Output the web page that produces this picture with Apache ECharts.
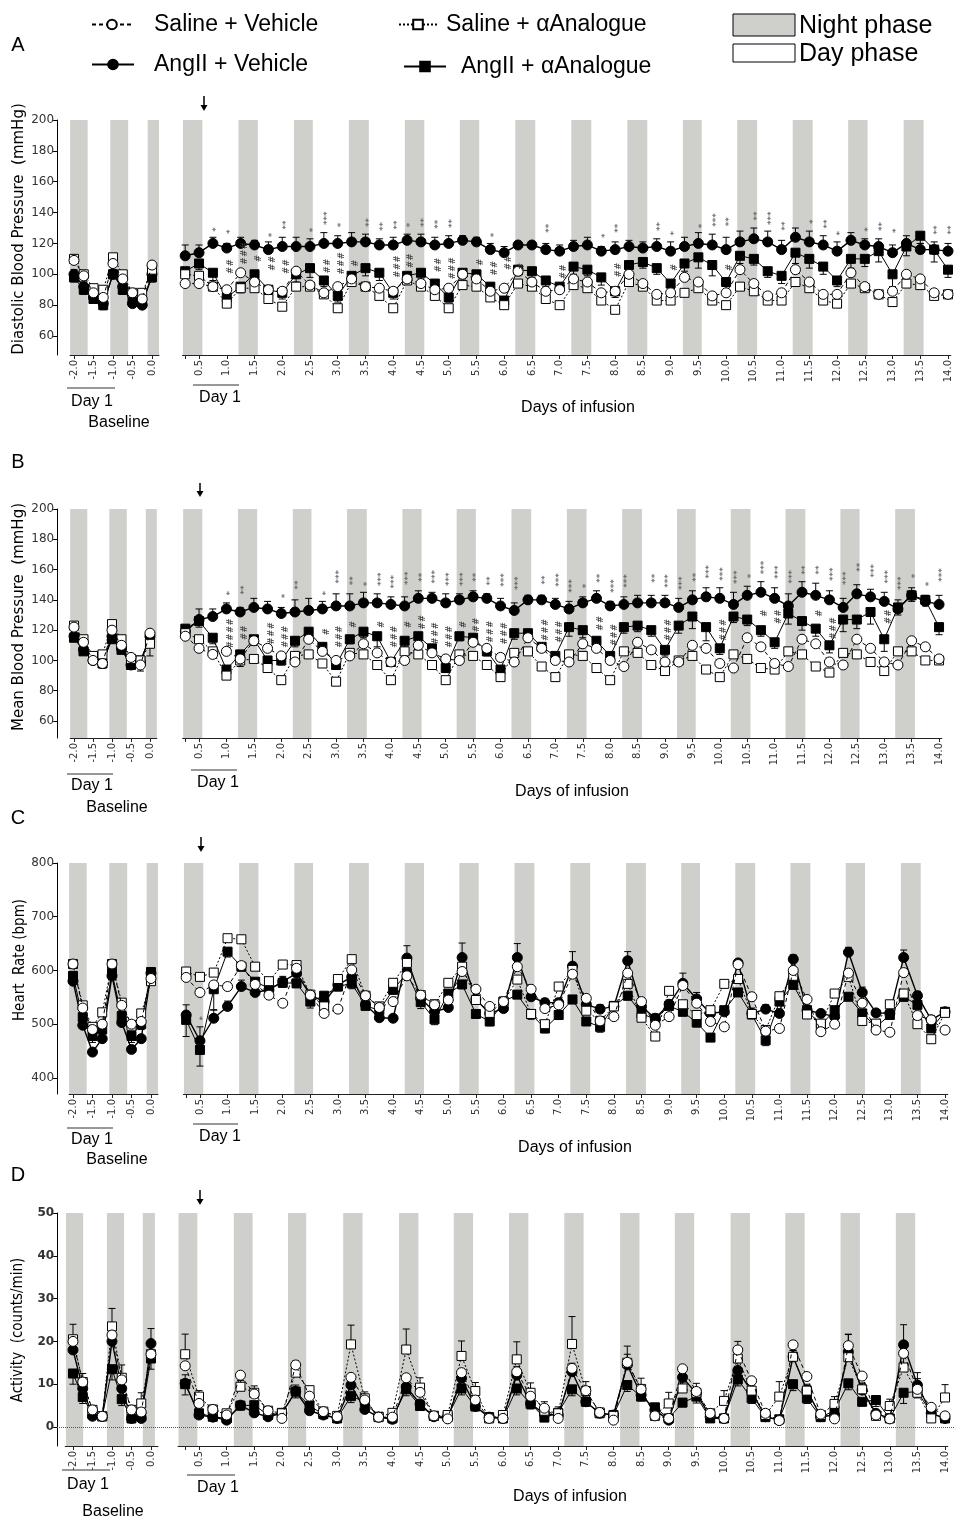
<!DOCTYPE html>
<html>
<head>
<meta charset="utf-8">
<script src="https://cdn.jsdelivr.net/npm/echarts@6/dist/echarts.min.js"></script>
<style>
html, body { margin: 0; padding: 0; background: #fff; }
#main { width: 957px; height: 1520px; }
</style>
</head>
<body>
<div id="main"></div>
<script>
// ---- x positions (days) ----
const baseDays = [-2, -1.75, -1.5, -1.25, -1, -0.75, -0.5, -0.25, 0];
const infDays = [0.25, 0.5, 0.75, 1, 1.25, 1.5, 1.75, 2, 2.25, 2.5, 2.75, 3, 3.25, 3.5, 3.75, 4,
  4.25, 4.5, 4.75, 5, 5.25, 5.5, 5.75, 6, 6.25, 6.5, 6.75, 7, 7.25, 7.5, 7.75, 8, 8.25, 8.5, 8.75, 9,
  9.25, 9.5, 9.75, 10, 10.25, 10.5, 10.75, 11, 11.25, 11.5, 11.75, 12, 12.25, 12.5, 12.75, 13,
  13.25, 13.5, 13.75, 14];
const baseTickLabels = [-2, -1.5, -1, -0.5, 0];
const infTickLabels = [0.5, 1, 1.5, 2, 2.5, 3, 3.5, 4, 4.5, 5, 5.5, 6, 6.5, 7, 7.5, 8, 8.5, 9, 9.5, 10,
  10.5, 11, 11.5, 12, 12.5, 13, 13.5, 14];

// night phases (days)
const nightBase = [[-2.1, -1.65], [-1.07, -0.61], [-0.11, 0.18]];
const nightInf = [[0.21, 0.56], [1.21, 1.56], [2.21, 2.55], [3.2, 3.56], [4.21, 4.56], [5.2, 5.55], [6.2, 6.56],
  [7.21, 7.57], [8.22, 8.58], [9.22, 9.56], [10.2, 10.56], [11.2, 11.56], [12.2, 12.55], [13.2, 13.56]];
const nightBaseD = [[-2.18, -1.74], [-1.13, -0.69], [-0.21, 0.1]];
const nightInfD = [[0.13, 0.47], [1.13, 1.47], [2.11, 2.44], [3.11, 3.46], [4.12, 4.47], [5.11, 5.46], [6.11, 6.46],
  [7.11, 7.46], [8.12, 8.47], [9.11, 9.46], [10.12, 10.47], [11.11, 11.46], [12.11, 12.46], [13.11, 13.46]];

// ---- A: diastolic blood pressure ----
const A_base_salVeh = [109, 99, 88, 85, 107, 97, 88, 84, 106];
const A_base_salAna = [110, 100, 91, 90, 111, 100, 88, 88, 103];
const A_base_angVeh = [100, 92, 85, 81, 100, 92, 81, 80, 100];
const A_base_angAna = [98, 90, 84, 80, 100, 90, 83, 82, 98];
const A_base_angVehErr = [3, 3, 3, 3, 3, 3, 2, 2, 3];
const A_base_angAnaErr = [3, 3, 2, 3, 3, 3, 2, 2, 3];

const A_salVeh = [94, 94, 92, 90, 101, 95, 90, 89, 102, 93, 88, 92, 97, 92, 91, 89, 97, 94, 90, 91, 100, 97, 89, 91, 102, 95, 89, 90,
  97, 95, 88, 89, 100, 94, 87, 88, 98, 95, 86, 88, 103, 94, 86, 88, 103, 95, 87, 87, 101, 92, 87, 89, 100, 97, 88, 87];
const A_salAna = [100, 99, 92, 81, 91, 91, 84, 79, 92, 92, 87, 78, 95, 92, 86, 78, 96, 92, 86, 78, 93, 92, 85, 80, 94, 92, 84, 80,
  93, 91, 83, 77, 95, 92, 83, 83, 88, 91, 83, 80, 92, 89, 83, 83, 95, 91, 83, 81, 94, 91, 87, 82, 94, 93, 86, 87];
const A_angVeh = [112, 114, 120, 117, 120, 119, 116, 118, 118, 118, 120, 120, 121, 121, 119, 119, 122, 121, 119, 120, 122, 121, 116, 114, 119, 119, 116, 115,
  118, 119, 115, 116, 118, 117, 118, 115, 118, 120, 119, 116, 121, 123, 121, 116, 124, 121, 119, 115, 122, 119, 118, 114, 120, 116, 116, 115];
const A_angAna = [102, 107, 101, 85, 92, 100, 90, 88, 100, 104, 96, 86, 99, 104, 101, 88, 99, 101, 94, 85, 101, 100, 92, 83, 103, 102, 96, 92,
  105, 103, 98, 89, 106, 108, 104, 94, 107, 111, 106, 95, 112, 110, 102, 99, 114, 110, 105, 96, 110, 110, 115, 100, 118, 125, 116, 103];
const A_angVehErr = [7, 5, 4, 3, 4, 3, 5, 6, 6, 5, 7, 5, 6, 5, 4, 5, 4, 5, 5, 5, 3, 3, 4, 4, 2, 2, 4, 4,
  4, 5, 3, 5, 4, 4, 5, 6, 6, 7, 7, 8, 7, 7, 7, 6, 6, 7, 6, 6, 5, 4, 5, 5, 5, 4, 5, 5];
const A_angAnaErr = [3, 4, 5, 3, 4, 5, 4, 4, 5, 6, 4, 4, 4, 5, 5, 4, 4, 4, 4, 3, 4, 4, 4, 4, 4, 4, 4, 4,
  5, 4, 5, 4, 4, 4, 4, 5, 5, 7, 7, 5, 5, 4, 4, 5, 7, 6, 5, 4, 6, 5, 7, 8, 6, 5, 8, 5];
const A_stars = [[0.75, 129, '*'], [1, 127.6, '*'], [1.75, 125.5, '*'], [2, 132, '**'], [2.5, 128.7, '*'], [2.75, 136.3, '***'],
  [3, 132, '*'], [3.5, 133.5, '**'], [3.75, 130.9, '**'], [4, 132, '**'], [4.25, 132, '*'], [4.5, 133.5, '**'], [4.75, 132.4, '**'],
  [5, 133, '**'], [5.75, 125.5, '*'], [6.75, 129.8, '**'], [7.75, 125, '*'], [8, 129.8, '**'], [8.75, 130.9, '**'], [9, 126.6, '*'],
  [9.5, 131.3, '*'], [9.75, 135.2, '***'], [10, 134.1, '**'], [10.5, 137.8, '**'], [10.75, 136.3, '***'], [11, 131.3, '**'],
  [11.5, 134.1, '*'], [11.75, 132.6, '**'], [12, 126.6, '*'], [12.5, 129.1, '*'], [12.75, 130.9, '**'], [13, 128.3, '*'],
  [13.75, 128.7, '**'], [14, 128.7, '**']];
const A_hashes = [[1, 105, '##'], [1.25, 113.6, '###'], [1.5, 110.3, '#'], [1.75, 107.1, '##'], [2, 105, '##'], [2.75, 105.4, '##'],
  [3, 107.1, '###'], [3.25, 107.1, '#'], [4, 105, '###'], [4.25, 108.8, '##'], [4.75, 106, '##'], [5, 103.9, '###'], [5.5, 107.8, '#'],
  [5.75, 103.9, '##'], [6, 107.5, '##'], [6.25, 105, '#'], [7, 101.7, '##'], [8, 102.8, '##'], [9, 104.5, '#'], [10, 104.5, '#']];

// ---- B: mean blood pressure ----
const B_base_salVeh = [122, 112, 100, 98, 120, 110, 102, 97, 118];
const B_base_salAna = [123, 114, 103, 104, 124, 114, 101, 100, 111];
const B_base_angVeh = [116, 107, 100, 98, 116, 108, 97, 99, 116];
const B_base_angAna = [115, 106, 101, 98, 114, 107, 97, 100, 115];
const B_base_salAnaErr = [2, 2, 2, 2, 2, 2, 2, 2, 8];
const B_base_salVehErr = [2, 2, 2, 3, 2, 2, 2, 4, 2];

const B_salVeh = [116, 108, 104, 106, 101, 113, 108, 103, 99, 114, 106, 100, 103, 111, 105, 99, 100, 110, 105, 101, 100, 112, 108, 102, 99, 115, 108, 100,
  99, 111, 108, 100, 96, 112, 107, 99, 99, 110, 108, 98, 95, 115, 109, 98, 96, 114, 111, 99, 97, 114, 108, 99, 97, 113, 109, 101];
const B_salAna = [118, 114, 106, 90, 100, 101, 95, 87, 103, 104, 98, 86, 105, 104, 97, 87, 106, 104, 97, 87, 104, 103, 97, 89, 105, 106, 96, 89,
  104, 103, 95, 87, 106, 105, 97, 93, 100, 103, 94, 89, 104, 101, 95, 94, 106, 104, 96, 92, 105, 104, 99, 93, 106, 106, 100, 100];
const B_angVeh = [119, 127, 129, 134, 132, 135, 134, 131, 132, 133, 134, 136, 136, 138, 138, 137, 136, 141, 141, 138, 140, 142, 141, 136, 133, 140, 140, 137,
  134, 138, 141, 136, 137, 138, 138, 138, 135, 140, 142, 141, 137, 143, 145, 141, 136, 145, 143, 140, 135, 144, 142, 139, 134, 143, 139, 137];
const B_angAna = [121, 126, 115, 94, 104, 114, 100, 100, 113, 119, 109, 97, 114, 119, 116, 99, 113, 116, 108, 95, 116, 115, 106, 94, 118, 118, 109, 103,
  122, 120, 113, 103, 122, 123, 120, 107, 123, 129, 122, 108, 129, 127, 120, 112, 131, 126, 121, 110, 127, 127, 132, 114, 135, 143, 140, 122];
const B_angVehErr = [3, 7, 5, 4, 3, 6, 5, 4, 8, 8, 5, 8, 8, 7, 6, 5, 6, 5, 4, 6, 4, 4, 3, 5, 5, 3, 3, 4,
  5, 4, 5, 3, 5, 5, 5, 5, 6, 6, 6, 7, 8, 6, 7, 7, 8, 7, 8, 6, 6, 6, 5, 6, 6, 5, 4, 6];
const B_angAnaErr = [3, 4, 4, 3, 8, 4, 3, 3, 4, 5, 3, 3, 3, 4, 7, 3, 4, 4, 3, 3, 3, 4, 3, 3, 4, 4, 3, 3,
  6, 5, 4, 3, 4, 4, 4, 4, 5, 8, 9, 4, 4, 4, 4, 4, 7, 6, 5, 5, 8, 6, 8, 8, 5, 4, 4, 5];
const B_stars = [[1, 144.3, '*'], [1.25, 146.5, '**'], [2, 142.5, '*'], [2.25, 149.8, '**'], [2.75, 144.3, '*'], [3, 155.3, '***'],
  [3.25, 152.7, '**'], [3.5, 150.5, '*'], [3.75, 153.6, '***'], [4, 152, '***'], [4.25, 154.2, '***'], [4.5, 154.9, '**'],
  [4.75, 155.3, '***'], [5, 153.6, '***'], [5.25, 153.6, '***'], [5.5, 154.9, '**'], [5.75, 152.5, '**'], [6, 153.1, '***'],
  [6.25, 150.9, '***'], [6.75, 153.1, '**'], [7, 153.1, '***'], [7.25, 149.2, '***'], [7.5, 149.2, '*'], [7.75, 154.2, '**'],
  [8, 149.2, '***'], [8.25, 152.5, '***'], [8.75, 154.2, '**'], [9, 152.5, '***'], [9.25, 150.9, '***'], [9.5, 154.9, '**'],
  [9.75, 158.6, '***'], [10, 157.1, '***'], [10.25, 154.9, '***'], [10.5, 155.8, '*'], [10.75, 161.3, '***'], [11, 158.2, '***'],
  [11.25, 155.3, '***'], [11.5, 159.7, '**'], [11.75, 159.7, '**'], [12, 156.9, '***'], [12.25, 154.2, '***'], [12.5, 161.5, '**'],
  [12.75, 159.3, '***'], [13, 155.3, '***'], [13.25, 150.9, '***'], [13.5, 155.8, '*'], [13.75, 150.5, '*'], [14, 156.4, '***']];
const B_hashes = [[1, 117.9, '####'], [1.25, 118.3, '##'], [1.75, 117.9, '###'], [2, 115.7, '###'], [2.75, 119, '#'], [3, 115.7, '###'],
  [3.25, 123.8, '#'], [3.75, 123.8, '#'], [4, 115.7, '###'], [4.25, 123.8, '#'], [4.5, 125.2, '##'], [4.75, 117.9, '###'],
  [5, 115.7, '###'], [5.25, 123.8, '#'], [5.5, 123.4, '##'], [5.75, 119, '###'], [6, 117.9, '###'], [6.75, 120.1, '###'],
  [7, 119, '###'], [7.75, 124.5, '##'], [8, 116.8, '###'], [9, 120.1, '###'], [10, 120.1, '###'], [10.75, 131.1, '#'],
  [11, 128.9, '##'], [11.75, 131.1, '#'], [12, 121.2, '###'], [13, 128.9, '##']];

// ---- C: heart rate ----
const C_base_salVeh = [612, 530, 490, 500, 612, 535, 500, 505, 585];
const C_base_salAna = [612, 535, 495, 522, 612, 540, 497, 520, 580];
const C_base_angVeh = [580, 498, 448, 473, 590, 503, 453, 473, 595];
const C_base_angAna = [590, 513, 478, 490, 595, 515, 478, 500, 597];
const C_base_angAnaErr = [8, 8, 12, 8, 8, 8, 12, 10, 8];

const C_salVeh = [587, 559, 573, 570, 609, 574, 554, 539, 604, 554, 520, 528, 601, 553, 531, 542, 590, 554, 536, 545, 598, 565, 533, 542, 607, 565, 529, 536,
  593, 548, 506, 514, 595, 542, 498, 514, 572, 539, 505, 495, 611, 551, 487, 492, 600, 546, 486, 500, 595, 539, 489, 485, 596, 516, 508, 489];
const C_salAna = [598, 588, 596, 660, 658, 607, 580, 611, 610, 555, 533, 584, 621, 553, 533, 577, 614, 554, 537, 577, 607, 545, 521, 542, 583, 519, 500, 570,
  601, 525, 506, 533, 575, 512, 477, 562, 537, 517, 526, 575, 584, 519, 489, 552, 590, 518, 501, 557, 588, 506, 501, 537, 557, 500, 472, 521];
const C_angVeh = [517, 469, 511, 533, 570, 559, 564, 579, 595, 554, 542, 573, 588, 536, 512, 511, 623, 548, 523, 531, 624, 546, 520, 529, 624, 551, 540, 540,
  608, 537, 528, 533, 618, 533, 511, 537, 576, 547, 520, 523, 614, 520, 528, 520, 621, 526, 520, 514, 634, 559, 521, 520, 624, 553, 508, 523];
const C_angAna = [508, 452, 565, 635, 607, 579, 567, 577, 576, 542, 553, 570, 576, 534, 526, 564, 595, 541, 509, 557, 574, 519, 505, 542, 555, 519, 492, 517,
  546, 505, 495, 534, 553, 520, 509, 534, 523, 503, 475, 526, 559, 518, 470, 542, 573, 526, 498, 526, 551, 520, 495, 517, 551, 536, 492, 523];
const C_angVehErr = [19, 26, 15, 10, 12, 8, 6, 10, 10, 8, 8, 8, 12, 6, 6, 5, 23, 12, 8, 6, 27, 10, 10, 8, 26, 10, 8, 8,
  27, 10, 8, 8, 17, 8, 8, 8, 19, 12, 10, 8, 6, 10, 8, 8, 8, 6, 6, 6, 9, 10, 6, 6, 14, 8, 8, 6];
const C_angAnaErr = [31, 30, 38, 10, 8, 8, 8, 8, 8, 12, 8, 8, 10, 6, 6, 8, 8, 12, 10, 8, 8, 6, 8, 6, 6, 10, 8, 8,
  8, 6, 10, 6, 8, 12, 8, 6, 6, 8, 6, 6, 6, 8, 10, 6, 6, 12, 8, 6, 6, 8, 8, 6, 8, 8, 6, 6];
const C_stars = [[0.5, 511, '*']];

// ---- D: activity ----
const D_base_salVeh = [20, 10.5, 4, 2.5, 21.5, 11, 4, 3.5, 17];
const D_base_salAna = [20.5, 10.5, 4, 2.5, 23.5, 11.5, 4, 5.5, 17];
const D_base_angVeh = [18, 9, 2.5, 2.5, 20, 9, 2, 2, 19.5];
const D_base_angAna = [12.5, 7, 3, 2.5, 13.5, 6.5, 2, 2.5, 16];
const D_base_salAnaErr = [3.5, 2, 1, 0.5, 4.2, 3, 1, 2.5, 2];
const D_base_angVehErr = [2.5, 2, 1, 0.5, 2.5, 2, 1, 1, 3.5];
const D_base_angAnaErr = [2.5, 1.5, 1, 0.5, 2.5, 1.5, 1, 1, 2.5];

const D_salVeh = [14.3, 5.5, 4.1, 2.8, 12.1, 7.7, 3.8, 2, 14.5, 7.2, 3.6, 2.4, 11.6, 6.3, 2.3, 2.3, 11.5, 8.1, 2.6, 1.9, 12.7, 6.3, 2, 2, 12.9, 7.2, 4.4, 2,
  13.7, 8.5, 3.4, 1.6, 15.1, 8.8, 2.6, 2, 13.6, 8.3, 3.2, 2, 18, 10.8, 3.2, 1.5, 19.2, 11.8, 3, 1.9, 19, 11.9, 2.8, 1.9, 17.2, 8.8, 4.6, 2.6];
const D_salAna = [17, 7.1, 4.1, 3.2, 9.4, 8, 3.8, 3.2, 12.7, 8.6, 3.6, 2.6, 19.3, 6.7, 2.3, 3.3, 18.1, 9.2, 2.6, 2.8, 16.6, 8.4, 2, 2.8, 15.8, 8, 3.8, 3.2,
  19.4, 8.4, 3.4, 2.6, 15, 8.9, 2.6, 5.5, 9, 8, 3.2, 6.1, 16, 8.5, 2.8, 7.1, 16.4, 8.5, 2.8, 5.4, 16.3, 8.8, 2.6, 4.9, 13.9, 8, 2, 6.9];
const D_angVeh = [10.2, 2.8, 2.3, 1.6, 5.1, 3.3, 2.4, 3.2, 8.3, 3.8, 2.8, 2, 9.8, 4.1, 2.3, 1.8, 9.4, 5.4, 2.4, 2, 11.4, 4.8, 2.3, 2, 12.1, 5.5, 3, 2.8,
  12.9, 5.9, 3.2, 2.8, 14.5, 7.5, 4, 1.6, 11.6, 7.9, 2.4, 2, 13.2, 8.3, 2.4, 1.6, 16.4, 8.6, 2.4, 2.8, 17.6, 8.6, 3.2, 2, 19.2, 9.8, 3.2, 2];
const D_angAna = [10, 3.2, 2.4, 2, 5, 5.1, 2.8, 3.3, 8.3, 4.9, 3, 2, 7.2, 5.9, 2.4, 2, 8.8, 4.9, 2.6, 2.4, 9, 4.8, 2.3, 2, 9, 5.4, 2.2, 3.3,
  8.8, 5.9, 3.2, 2.8, 9.8, 7.1, 4.6, 2, 5.7, 7.1, 2, 2, 11.1, 6.7, 2.3, 1.8, 10, 6.7, 2.3, 3.8, 10.2, 5.9, 6.3, 2, 8, 8.3, 3.2, 2];
const D_salAnaErr = [4.7, 1.4, 0.8, 0.6, 1.5, 1.6, 0.6, 0.6, 2.7, 0.8, 0.5, 0.6, 4.5, 1.5, 0.4, 0.6, 4.8, 2.3, 0.5, 0.5, 3.5, 2, 0.4, 0.5, 4.1, 2.3, 2.1, 1.5,
  6.4, 2.2, 0.6, 0.5, 3.9, 2.5, 0.5, 2.6, 1.5, 2.2, 0.6, 2.4, 4, 1.5, 0.5, 3.5, 1.5, 1.5, 0.5, 1.7, 5.4, 1.5, 0.5, 1.6, 2.5, 4.7, 0.5, 3];
const D_angVehErr = [2, 0.5, 0.3, 0.3, 0.8, 0.5, 0.3, 0.3, 1.5, 0.6, 0.3, 0.3, 2, 0.8, 0.3, 0.3, 1.5, 0.8, 0.3, 0.3, 2, 0.8, 0.3, 0.3, 2, 1, 0.4, 0.3,
  2, 1, 0.4, 0.3, 2.5, 1.2, 0.4, 0.3, 1.5, 1, 0.3, 0.3, 2, 1, 0.3, 0.3, 1.5, 1, 0.3, 0.3, 4, 1.5, 0.4, 0.3, 4.7, 1.5, 0.5, 0.3];
const D_angAnaErr = [2.5, 1, 0.5, 0.4, 1, 1.5, 0.5, 0.5, 1.5, 1, 0.5, 0.4, 1.5, 1, 0.4, 0.4, 1.5, 1, 0.4, 0.4, 1.5, 1, 0.4, 0.4, 1.5, 1.2, 0.4, 0.5,
  1.5, 1, 0.5, 0.5, 1.5, 1, 1, 0.4, 1, 1.5, 0.4, 0.4, 1.5, 1.2, 0.4, 0.4, 1.5, 1.2, 0.4, 0.8, 1.5, 1, 1.5, 0.4, 2.5, 1.5, 0.5, 0.4];

// ---- series look ----
const GROUPS = [
  { key: 'angAna', name: 'AngII + αAnalogue', symbol: 'rect', size: 9, fill: '#000', line: 'solid', width: 1, z: 3 },
  { key: 'angVeh', name: 'AngII + Vehicle', symbol: 'circle', size: 10, fill: '#000', line: 'solid', width: 1.4, z: 4 },
  { key: 'salAna', name: 'Saline + αAnalogue', symbol: 'rect', size: 9, fill: '#fff', line: [2, 2], width: 1, z: 5 },
  { key: 'salVeh', name: 'Saline + Vehicle', symbol: 'circle', size: 10, fill: '#fff', line: [4, 3], width: 1, z: 6 }
];

const panels = [
  {
    top: 120, height: 235, yMin: 47.7, yMax: 200, yTicks: [60, 80, 100, 120, 140, 160, 180, 200], yOffset: 13, bold: false,
    base: { left: 70.1, width: 88.9, min: -2.1, max: 0.18, bands: nightBase,
      data: { salVeh: A_base_salVeh, salAna: A_base_salAna, angVeh: A_base_angVeh, angAna: A_base_angAna },
      err: [['angVeh', A_base_angVehErr, 1], ['angAna', A_base_angAnaErr, -1]] },
    inf: { left: 182.4, width: 768.4, min: 0.2, max: 14.05, bands: nightInf,
      data: { salVeh: A_salVeh, salAna: A_salAna, angVeh: A_angVeh, angAna: A_angAna },
      err: [['angVeh', A_angVehErr, 1], ['angAna', A_angAnaErr, -1]], stars: A_stars, hashes: A_hashes },
    letter: ['A', 18, 45], title: ['Diastolic Blood Pressure  (mmHg)', 19, 229, '15px "DejaVu Sans"'],
    bLine: [67, 115, 388], bDay: [92, 402], bBase: [119, 423], iLine: [193, 239, 385], iDay: [220, 398], iDays: [578, 408], arrow: [204, 96, 111]
  },
  {
    top: 509, height: 229, yMin: 48.8, yMax: 200, yTicks: [60, 80, 100, 120, 140, 160, 180, 200], yOffset: 13, bold: false,
    base: { left: 70.2, width: 86.6, min: -2.1, max: 0.18, bands: nightBase,
      data: { salVeh: B_base_salVeh, salAna: B_base_salAna, angVeh: B_base_angVeh, angAna: B_base_angAna },
      err: [['salAna', B_base_salAnaErr, -1], ['salVeh', B_base_salVehErr, -1]] },
    inf: { left: 182.6, width: 759.2, min: 0.2, max: 14.05, bands: nightInf,
      data: { salVeh: B_salVeh, salAna: B_salAna, angVeh: B_angVeh, angAna: B_angAna },
      err: [['angVeh', B_angVehErr, 1], ['angAna', B_angAnaErr, -1]], stars: B_stars, hashes: B_hashes },
    letter: ['B', 18, 462], title: ['Mean Blood Pressure  (mmHg)', 19, 617, '15px "DejaVu Sans"'],
    bLine: [67, 113, 774], bDay: [92, 786], bBase: [117, 808], iLine: [191, 237, 770], iDay: [218, 783], iDays: [572, 792], arrow: [200, 483, 497]
  },
  {
    top: 863, height: 231, yMin: 370, yMax: 800, yTicks: [400, 500, 600, 700, 800], yOffset: 12, bold: false,
    base: { left: 69.1, width: 88.9, min: -2.1, max: 0.18, bands: nightBase,
      data: { salVeh: C_base_salVeh, salAna: C_base_salAna, angVeh: C_base_angVeh, angAna: C_base_angAna },
      err: [['angAna', C_base_angAnaErr, -1]] },
    inf: { left: 183.4, width: 764.4, min: 0.2, max: 14.05, bands: nightInf,
      data: { salVeh: C_salVeh, salAna: C_salAna, angVeh: C_angVeh, angAna: C_angAna },
      err: [['angVeh', C_angVehErr, 1], ['angAna', C_angAnaErr, -1]], stars: C_stars, hashes: [] },
    letter: ['C', 18, 818], title: ['Heart  Rate (bpm)', 20, 960, '15px "DejaVu Sans Condensed"'],
    bLine: [67, 113, 1128], bDay: [92, 1140], bBase: [117, 1160], iLine: [193, 238, 1124], iDay: [220, 1137], iDays: [575, 1148], arrow: [201, 837, 852]
  },
  {
    top: 1213, height: 233, yMin: -4.44, yMax: 50, yTicks: [0, 10, 20, 30, 40, 50], yOffset: 8, bold: true,
    base: { left: 65.2, width: 92.8, min: -2.2, max: 0.18, bands: nightBaseD,
      data: { salVeh: D_base_salVeh, salAna: D_base_salAna, angVeh: D_base_angVeh, angAna: D_base_angAna },
      err: [['salAna', D_base_salAnaErr, 1], ['angVeh', D_base_angVehErr, 1], ['angAna', D_base_angAnaErr, -1]] },
    inf: { left: 178, width: 769.8, min: 0.12, max: 14.05, bands: nightInfD,
      data: { salVeh: D_salVeh, salAna: D_salAna, angVeh: D_angVeh, angAna: D_angAna },
      err: [['salAna', D_salAnaErr, 1], ['angVeh', D_angVehErr, 1], ['angAna', D_angAnaErr, -1]], stars: [], hashes: [] },
    letter: ['D', 18, 1175], title: ['Activity  (counts/min)', 18, 1330, '15px "DejaVu Sans Condensed"'],
    bLine: [62, 110, 1470], bDay: [88, 1485], bBase: [113, 1512], iLine: [187, 235, 1475], iDay: [218, 1488], iDays: [570, 1497], arrow: [200, 1190, 1205],
    zeroLine: true
  }
];

const grids = [], xAxes = [], yAxes = [], series = [], graphic = [];

function errSeries(gi, days, vals, errs, dir) {
  return {
    type: 'custom', xAxisIndex: gi, yAxisIndex: gi, z: 2, silent: true,
    data: days.map((d, i) => [d, vals[i], errs[i]]),
    renderItem(params, api) {
      const x = api.value(0), y = api.value(1), e = api.value(2);
      const a = api.coord([x, y]), b = api.coord([x, y + dir * e]);
      return { type: 'group', children: [
        { type: 'line', shape: { x1: a[0], y1: a[1], x2: b[0], y2: b[1] }, style: { stroke: '#000', lineWidth: 1 } },
        { type: 'line', shape: { x1: b[0] - 3.5, y1: b[1], x2: b[0] + 3.5, y2: b[1] }, style: { stroke: '#000', lineWidth: 1 } }
      ] };
    }
  };
}

function annoSeries(gi, items, color, font) {
  return {
    type: 'custom', xAxisIndex: gi, yAxisIndex: gi, z: 7, silent: true,
    data: items.map(it => [it[0], it[1]]),
    renderItem(params, api) {
      const p = api.coord([api.value(0), api.value(1)]);
      return {
        type: 'text', x: p[0] + 4, y: p[1], rotation: Math.PI / 2,
        style: { text: items[params.dataIndex][2], fill: color, font: font, align: 'center', verticalAlign: 'middle',
          textAlign: 'center', textVerticalAlign: 'middle' }
      };
    }
  };
}

function text(x, y, str, font, rot) {
  return { type: 'text', x: x, y: y, rotation: rot || 0, silent: true,
    style: { text: str, fill: '#000', font: font, align: 'center', verticalAlign: 'middle', textAlign: 'center', textVerticalAlign: 'middle' } };
}
function hline(x1, x2, y) {
  return { type: 'line', silent: true, shape: { x1: x1, y1: y, x2: x2, y2: y }, style: { stroke: '#333', lineWidth: 1 } };
}

panels.forEach(p => {
  ['base', 'inf'].forEach(sec => {
    const g = p[sec];
    const gi = grids.length;
    const days = sec === 'base' ? baseDays : infDays;
    const labels = sec === 'base' ? baseTickLabels : infTickLabels;
    const marks = sec === 'base' ? baseTickLabels : [0.25].concat(infTickLabels);
    grids.push({ left: g.left, top: p.top, width: g.width, height: p.height });
    xAxes.push({
      type: 'value', gridIndex: gi, min: g.min, max: g.max,
      axisLine: { onZero: false, lineStyle: { color: '#222', width: 1 } },
      axisTick: { customValues: marks, length: 4, lineStyle: { color: '#222' } },
      axisLabel: { customValues: labels, rotate: 90, margin: 5, formatter: v => Number(v).toFixed(1),
        fontSize: 10, fontFamily: 'DejaVu Sans', color: '#333' },
      splitLine: { show: false }
    });
    yAxes.push({
      type: 'value', gridIndex: gi, min: p.yMin, max: p.yMax, show: sec === 'base', offset: p.yOffset,
      axisLine: { show: true, onZero: false, lineStyle: { color: '#000' } },
      axisTick: { show: true, customValues: p.yTicks, length: 4, lineStyle: { color: '#000' } },
      axisLabel: { customValues: p.yTicks, margin: 3, fontSize: 12, fontFamily: 'DejaVu Sans', color: '#333',
        fontWeight: p.bold ? 'bold' : 'normal' },
      splitLine: { show: false }
    });
    // error bars (below symbols)
    g.err.forEach(e => series.push(errSeries(gi, days, g.data[e[0]], e[1], e[2])));
    GROUPS.forEach((s, k) => {
      const ser = {
        type: 'line', name: s.name, xAxisIndex: gi, yAxisIndex: gi, z: s.z,
        data: days.map((d, i) => [d, g.data[s.key][i]]),
        symbol: s.symbol, symbolSize: s.size, showSymbol: true,
        itemStyle: { color: s.fill, borderColor: '#000', borderWidth: 1 },
        lineStyle: { color: '#000', width: s.width, type: s.line },
        emphasis: { disabled: true }
      };
      if (k === 0) {
        ser.markArea = {
          silent: true, itemStyle: { color: '#cfd0cb' }, z: 0,
          data: g.bands.map(b => [{ xAxis: b[0] }, { xAxis: b[1] }])
        };
      }
      series.push(ser);
    });
    if (g.stars && g.stars.length) series.push(annoSeries(gi, g.stars, '#555', '9px "DejaVu Sans"'));
    if (g.hashes && g.hashes.length) series.push(annoSeries(gi, g.hashes, '#333', '9px "DejaVu Sans"'));
  });

  if (p.zeroLine) {
    const gi = grids.length;
    grids.push({ left: 57, top: p.top, width: 898, height: p.height });
    xAxes.push({ type: 'value', gridIndex: gi, min: 0, max: 1, show: false });
    yAxes.push({ type: 'value', gridIndex: gi, min: p.yMin, max: p.yMax, show: false });
    series.push({
      type: 'line', xAxisIndex: gi, yAxisIndex: gi, data: [], z: 1,
      markLine: { silent: true, symbol: 'none', label: { show: false },
        lineStyle: { type: 'dotted', color: '#555', width: 1 }, data: [{ yAxis: 0 }] }
    });
  }

  // annotations around the panel
  graphic.push(text(p.letter[1], p.letter[2], p.letter[0], '20px "Liberation Sans"'));
  graphic.push(text(p.title[1], p.title[2], p.title[0], p.title[3], Math.PI / 2));
  graphic.push(hline(p.bLine[0], p.bLine[1], p.bLine[2]));
  graphic.push(text(p.bDay[0], p.bDay[1], 'Day 1', '16px "Liberation Sans"'));
  graphic.push(text(p.bBase[0], p.bBase[1], 'Baseline', '16px "Liberation Sans"'));
  graphic.push(hline(p.iLine[0], p.iLine[1], p.iLine[2]));
  graphic.push(text(p.iDay[0], p.iDay[1], 'Day 1', '16px "Liberation Sans"'));
  graphic.push(text(p.iDays[0], p.iDays[1], 'Days of infusion', '16px "Liberation Sans"'));
  const ax = p.arrow;
  graphic.push({ type: 'line', silent: true, shape: { x1: ax[0], y1: ax[1], x2: ax[0], y2: ax[2] - 4 }, style: { stroke: '#000', lineWidth: 1.5 } });
  graphic.push({ type: 'polygon', silent: true, shape: { points: [[ax[0] - 3.5, ax[2] - 6], [ax[0] + 3.5, ax[2] - 6], [ax[0], ax[2]]] }, style: { fill: '#000' } });
});

// night / day key
graphic.push({ type: 'rect', silent: true, shape: { x: 733, y: 14, width: 62, height: 22 }, style: { fill: '#cfd0cb', stroke: '#000', lineWidth: 1 } });
graphic.push({ type: 'rect', silent: true, shape: { x: 733, y: 44, width: 62, height: 18 }, style: { fill: '#fff', stroke: '#000', lineWidth: 1 } });
graphic.push({ type: 'text', silent: true, x: 799, y: 26, style: { text: 'Night phase', fill: '#000', font: '25px "Liberation Sans"', align: 'left', verticalAlign: 'middle', textAlign: 'left', textVerticalAlign: 'middle' } });
graphic.push({ type: 'text', silent: true, x: 799, y: 54, style: { text: 'Day phase', fill: '#000', font: '25px "Liberation Sans"', align: 'left', verticalAlign: 'middle', textAlign: 'left', textVerticalAlign: 'middle' } });

const legendText = { fontSize: 23, fontFamily: 'Liberation Sans', color: '#000' };
const legends = [
  { data: ['Saline + Vehicle'], left: 86, top: 8, itemWidth: 40, pad: 17 },
  { data: ['AngII + Vehicle'], left: 86, top: 48, itemWidth: 42, pad: 15 },
  { data: ['Saline + αAnalogue'], left: 393, top: 8, itemWidth: 38, pad: 4 },
  { data: ['AngII + αAnalogue'], left: 398, top: 50, itemWidth: 42, pad: 10 }
].map(l => ({
  data: l.data, left: l.left, top: l.top, itemWidth: l.itemWidth, itemHeight: 12, selectedMode: false,
  textStyle: Object.assign({ padding: [0, 0, 0, l.pad] }, legendText)
}));

const chart = echarts.init(document.getElementById('main'));
chart.setOption({
  animation: false,
  backgroundColor: '#fff',
  legend: legends,
  grid: grids,
  xAxis: xAxes,
  yAxis: yAxes,
  series: series,
  graphic: graphic
});

window.addEventListener('resize', function () {
  chart.resize();
});
</script>
</body>
</html>
